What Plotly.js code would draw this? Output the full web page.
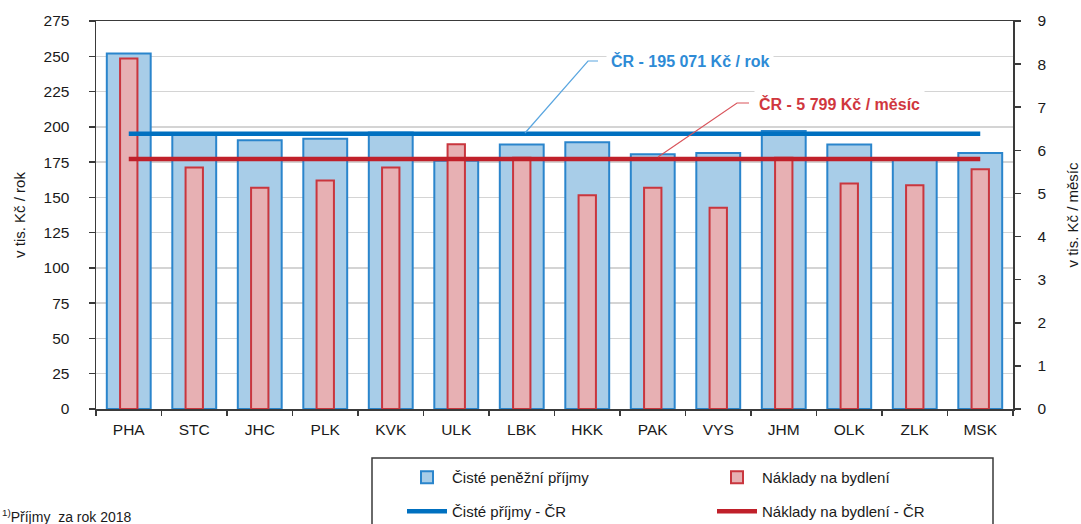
<!DOCTYPE html>
<html>
<head>
<meta charset="utf-8">
<script src="https://cdn.plot.ly/plotly-3.0.1.min.js"></script>
<style>html,body{margin:0;padding:0;background:#fff;}#chart{width:1081px;height:524px;}</style>
</head>
<body>
<div id="chart"></div>
<script>
// Kraje
const regions = ["PHA","STC","JHC","PLK","KVK","ULK","LBK","HKK","PAK","VYS","JHM","OLK","ZLK","MSK"];
// Čisté peněžní příjmy (tis. Kč / rok)
const incomeYear = [252, 195, 190.5, 191.5, 196, 176, 187.5, 189, 180.5, 181.5, 197, 187.5, 177, 181.5];
// Náklady na bydlení (tis. Kč / měsíc)
const housingMonth = [8.13, 5.60, 5.13, 5.30, 5.60, 6.14, 5.83, 4.96, 5.13, 4.67, 5.83, 5.23, 5.19, 5.56];
// Průměr ČR
const incomeCR = 195.071;
const housingCR = 5.799;
const leftTicks = [0,25,50,75,100,125,150,175,200,225,250,275];
const rightTicks = [0,1,2,3,4,5,6,7,8,9];

const FONT = "Liberation Sans, Arial, sans-serif";
const TXT = "#1a1a1a";

const traces = [
  {type:"bar", name:"Čisté peněžní příjmy", x:regions, y:incomeYear, yaxis:"y", width:0.67,
   marker:{color:"#A8CDE8", line:{color:"#2A85CC", width:2}}, legend:"legend", hoverinfo:"x+y"},
  {type:"bar", name:"Náklady na bydlení", x:regions, y:housingMonth, yaxis:"y2", width:0.265,
   marker:{color:"#E7B0B3", line:{color:"#C9363E", width:2}}, legend:"legend", hoverinfo:"x+y"},
  {type:"scatter", mode:"lines", name:"Náklady na bydlení - ČR", x:regions, y:regions.map(()=>housingCR), yaxis:"y2",
   line:{color:"#C0202A", width:4.5}, legend:"legend2"},
  {type:"scatter", mode:"lines", name:"Čisté příjmy - ČR", x:regions, y:regions.map(()=>incomeCR), yaxis:"y3",
   line:{color:"#0070C0", width:4.5}, legend:"legend2"}
];

function px(x){return (x-96)/917;}
function py(y){return (409-y)/388;}

const layout = {
  width:1081, height:524,
  margin:{l:96, r:68, t:21, b:115, pad:0, autoexpand:false},
  paper_bgcolor:"#fff", plot_bgcolor:"#fff",
  font:{family:FONT, size:15, color:TXT},
  barmode:"overlay",
  showlegend:true,
  xaxis:{type:"category", categoryorder:"array", categoryarray:regions, automargin:false,
    showline:true, linecolor:"#3a3a3a", linewidth:1.5, mirror:true,
    ticks:"outside", tickson:"boundaries", ticklen:5, tickcolor:"#3a3a3a", tickwidth:1.5, ticklabelstandoff:6,
    tickfont:{family:FONT, size:15.5, color:TXT}, showgrid:false, zeroline:false, fixedrange:true},
  yaxis:{range:[0,275], tickvals:leftTicks, ticktext:leftTicks.map(String), automargin:false,
    showline:true, linecolor:"#3a3a3a", linewidth:1.5,
    ticks:"outside", ticklen:6, tickcolor:"#3a3a3a", tickwidth:1.5, ticklabelstandoff:16,
    showgrid:true, gridcolor:"#D4D4D4", gridwidth:1.5, zeroline:false,
    tickfont:{family:FONT, size:15.5, color:TXT},
    title:{text:"v tis. Kč / rok", font:{family:FONT, size:15, color:TXT}, standoff:14}},
  yaxis2:{range:[0,9], tickvals:rightTicks, ticktext:rightTicks.map(String), overlaying:"y", side:"right", automargin:false,
    showline:true, linecolor:"#3a3a3a", linewidth:1.5,
    ticks:"outside", ticklen:6, tickcolor:"#3a3a3a", tickwidth:1.5, ticklabelstandoff:14,
    showgrid:false, zeroline:false,
    tickfont:{family:FONT, size:15.5, color:TXT},
    title:{text:"v tis. Kč / měsíc", font:{family:FONT, size:15, color:TXT}, standoff:22}},
  yaxis3:{range:[0,275], overlaying:"y", visible:false},
  legend:{orientation:"h", x:px(402), y:py(461), xanchor:"left", yanchor:"top",
    entrywidth:255, entrywidthmode:"pixels", itemwidth:40, bgcolor:"rgba(0,0,0,0)", borderwidth:0,
    font:{family:FONT, size:15, color:TXT}, traceorder:"normal"},
  legend2:{orientation:"h", x:px(402), y:py(495), xanchor:"left", yanchor:"top",
    entrywidth:255, entrywidthmode:"pixels", itemwidth:40, bgcolor:"rgba(0,0,0,0)", borderwidth:0,
    font:{family:FONT, size:15, color:TXT}, traceorder:"reversed"},
  shapes:[
    {type:"rect", xref:"paper", yref:"paper", x0:px(372), x1:px(993), y0:py(540), y1:py(458),
     line:{color:"#3a3a3a", width:1.5}, fillcolor:"rgba(0,0,0,0)", layer:"below"},
    {type:"path", xref:"paper", yref:"paper",
     path:`M${px(525)},${py(133)} L${px(588)},${py(61)} L${px(598)},${py(61)}`,
     line:{color:"#5AA6E0", width:1.2}},
    {type:"path", xref:"paper", yref:"paper",
     path:`M${px(658)},${py(157)} L${px(737)},${py(103)} L${px(749)},${py(103)}`,
     line:{color:"#D9545B", width:1.2}}
  ],
  annotations:[
    {xref:"paper", yref:"paper", x:px(606), y:py(61), xanchor:"left", yanchor:"middle", showarrow:false,
     text:"<b>ČR - 195 071 Kč / rok</b>", font:{family:FONT, size:16, color:"#2E8BD6"},
     bgcolor:"#fff", borderpad:4},
    {xref:"paper", yref:"paper", x:px(754), y:py(104), xanchor:"left", yanchor:"middle", showarrow:false,
     text:"<b>ČR - 5 799 Kč / měsíc</b>", font:{family:FONT, size:16, color:"#D0373E"},
     bgcolor:"#fff", borderpad:4},
    {xref:"paper", yref:"paper", x:px(0), y:py(516), xanchor:"left", yanchor:"middle", showarrow:false,
     text:"<sup>1)</sup>Příjmy  za rok 2018", font:{family:FONT, size:14, color:TXT}}
  ]
};

Plotly.newPlot("chart", traces, layout, {displayModeBar:false, staticPlot:true});
</script>
</body>
</html>
